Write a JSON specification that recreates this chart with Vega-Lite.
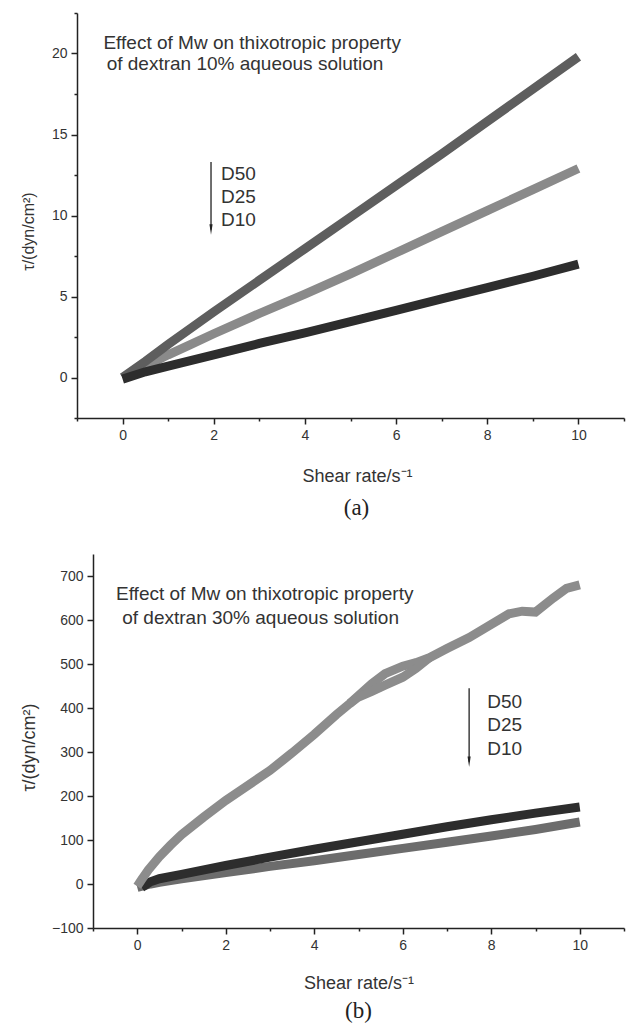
{
  "$schema": "https://vega.github.io/schema/vega-lite/v6.json",
  "padding": {"left": 20, "top": 6, "right": 0, "bottom": 0},
  "background": "white",
  "spacing": 34,
  "resolve": {"scale": {"color": "independent", "strokeWidth": "independent"}},
  "config": {
    "view": {"stroke": null},
    "font": "Liberation Sans",
    "axis": {
      "grid": false,
      "domainColor": "#222",
      "domainWidth": 1.5,
      "tickColor": "#222",
      "tickWidth": 1.5,
      "labelFont": "Liberation Sans",
      "labelFontSize": 14,
      "labelColor": "#333",
      "labelPadding": 4,
      "labelFlush": false,
      "labelOverlap": false,
      "titleFont": "Liberation Sans",
      "titleFontWeight": "normal",
      "titleColor": "#333",
      "titleFontSize": 18
    },
    "title": {"font": "Liberation Serif", "fontWeight": "normal", "fontSize": 23, "color": "#222"}
  },
  "datasets": {
    "a_lines": [
      {"series": "D25", "x": 0, "y": 0},
      {"series": "D25", "x": 0.5, "y": 0.7},
      {"series": "D25", "x": 1, "y": 1.4},
      {"series": "D25", "x": 1.5, "y": 2.05},
      {"series": "D25", "x": 2, "y": 2.7},
      {"series": "D25", "x": 3, "y": 3.95},
      {"series": "D25", "x": 4, "y": 5.15},
      {"series": "D25", "x": 5, "y": 6.4},
      {"series": "D25", "x": 6, "y": 7.7},
      {"series": "D25", "x": 7, "y": 9.0},
      {"series": "D25", "x": 8, "y": 10.3},
      {"series": "D25", "x": 9, "y": 11.6},
      {"series": "D25", "x": 10, "y": 12.9},
      {"series": "D50", "x": 0, "y": 0},
      {"series": "D50", "x": 0.5, "y": 1.0},
      {"series": "D50", "x": 1, "y": 2.05},
      {"series": "D50", "x": 1.5, "y": 3.05},
      {"series": "D50", "x": 2, "y": 4.05},
      {"series": "D50", "x": 3, "y": 6.0},
      {"series": "D50", "x": 4, "y": 7.95},
      {"series": "D50", "x": 5, "y": 9.9},
      {"series": "D50", "x": 6, "y": 11.85},
      {"series": "D50", "x": 7, "y": 13.8},
      {"series": "D50", "x": 8, "y": 15.8},
      {"series": "D50", "x": 9, "y": 17.8},
      {"series": "D50", "x": 10, "y": 19.8},
      {"series": "D10", "x": 0, "y": -0.1},
      {"series": "D10", "x": 0.5, "y": 0.35},
      {"series": "D10", "x": 1, "y": 0.7},
      {"series": "D10", "x": 2, "y": 1.4},
      {"series": "D10", "x": 3, "y": 2.1},
      {"series": "D10", "x": 4, "y": 2.75},
      {"series": "D10", "x": 5, "y": 3.45},
      {"series": "D10", "x": 6, "y": 4.15},
      {"series": "D10", "x": 7, "y": 4.85},
      {"series": "D10", "x": 8, "y": 5.55},
      {"series": "D10", "x": 9, "y": 6.25},
      {"series": "D10", "x": 10, "y": 7.0}
    ],
    "a_text": [
      {"x": -0.42, "y": 20.3, "label": "Effect of Mw on thixotropic property"},
      {"x": -0.35, "y": 19.0, "label": "of dextran 10% aqueous solution"},
      {"x": 2.16, "y": 12.2, "label": "D50"},
      {"x": 2.16, "y": 10.8, "label": "D25"},
      {"x": 2.16, "y": 9.36, "label": "D10"}
    ],
    "a_arrow": [{"x": 1.94, "y1": 13.3, "y2": 9.14}],
    "b_lines": [
      {"series": "D25", "branch": "u", "x": 0, "y": -8},
      {"series": "D25", "branch": "u", "x": 0.3, "y": 0},
      {"series": "D25", "branch": "u", "x": 0.5, "y": 4},
      {"series": "D25", "branch": "u", "x": 1, "y": 12},
      {"series": "D25", "branch": "u", "x": 2, "y": 26},
      {"series": "D25", "branch": "u", "x": 3, "y": 40},
      {"series": "D25", "branch": "u", "x": 4, "y": 53},
      {"series": "D25", "branch": "u", "x": 5, "y": 67},
      {"series": "D25", "branch": "u", "x": 6, "y": 81},
      {"series": "D25", "branch": "u", "x": 7, "y": 95},
      {"series": "D25", "branch": "u", "x": 8, "y": 109},
      {"series": "D25", "branch": "u", "x": 9, "y": 124},
      {"series": "D25", "branch": "u", "x": 10, "y": 141},
      {"series": "D10", "branch": "u", "x": 0.1, "y": -8},
      {"series": "D10", "branch": "u", "x": 0.3, "y": 5},
      {"series": "D10", "branch": "u", "x": 0.5, "y": 12},
      {"series": "D10", "branch": "u", "x": 1, "y": 22},
      {"series": "D10", "branch": "u", "x": 2, "y": 42},
      {"series": "D10", "branch": "u", "x": 3, "y": 61},
      {"series": "D10", "branch": "u", "x": 4, "y": 79},
      {"series": "D10", "branch": "u", "x": 5, "y": 96},
      {"series": "D10", "branch": "u", "x": 6, "y": 113},
      {"series": "D10", "branch": "u", "x": 7, "y": 130},
      {"series": "D10", "branch": "u", "x": 8, "y": 146},
      {"series": "D10", "branch": "u", "x": 9, "y": 161},
      {"series": "D10", "branch": "u", "x": 10, "y": 175},
      {"series": "D50", "branch": "u", "x": 0, "y": -5},
      {"series": "D50", "branch": "u", "x": 0.1, "y": 10},
      {"series": "D50", "branch": "u", "x": 0.25, "y": 32},
      {"series": "D50", "branch": "u", "x": 0.5, "y": 62},
      {"series": "D50", "branch": "u", "x": 0.75, "y": 88},
      {"series": "D50", "branch": "u", "x": 1, "y": 112},
      {"series": "D50", "branch": "u", "x": 1.5, "y": 152},
      {"series": "D50", "branch": "u", "x": 2, "y": 190},
      {"series": "D50", "branch": "u", "x": 2.5, "y": 224},
      {"series": "D50", "branch": "u", "x": 3, "y": 258},
      {"series": "D50", "branch": "u", "x": 3.5, "y": 298},
      {"series": "D50", "branch": "u", "x": 4, "y": 340},
      {"series": "D50", "branch": "u", "x": 4.5, "y": 385},
      {"series": "D50", "branch": "u", "x": 4.8, "y": 410},
      {"series": "D50", "branch": "u", "x": 5, "y": 428},
      {"series": "D50", "branch": "u", "x": 5.3, "y": 455},
      {"series": "D50", "branch": "u", "x": 5.6, "y": 478},
      {"series": "D50", "branch": "u", "x": 6, "y": 495},
      {"series": "D50", "branch": "u", "x": 6.3, "y": 503},
      {"series": "D50", "branch": "u", "x": 6.6, "y": 514},
      {"series": "D50", "branch": "u", "x": 7, "y": 535},
      {"series": "D50", "branch": "u", "x": 7.5, "y": 560},
      {"series": "D50", "branch": "u", "x": 8, "y": 590},
      {"series": "D50", "branch": "u", "x": 8.4, "y": 614},
      {"series": "D50", "branch": "u", "x": 8.7, "y": 620},
      {"series": "D50", "branch": "u", "x": 9, "y": 618},
      {"series": "D50", "branch": "u", "x": 9.4, "y": 650},
      {"series": "D50", "branch": "u", "x": 9.7, "y": 672},
      {"series": "D50", "branch": "u", "x": 10, "y": 680},
      {"series": "D50", "branch": "d", "x": 4.8, "y": 410},
      {"series": "D50", "branch": "d", "x": 5, "y": 425},
      {"series": "D50", "branch": "d", "x": 5.3, "y": 438},
      {"series": "D50", "branch": "d", "x": 5.6, "y": 452},
      {"series": "D50", "branch": "d", "x": 6, "y": 470},
      {"series": "D50", "branch": "d", "x": 6.3, "y": 490},
      {"series": "D50", "branch": "d", "x": 6.6, "y": 514}
    ],
    "b_text": [
      {"x": -0.48, "y": 645, "label": "Effect of Mw on thixotropic property"},
      {"x": -0.34, "y": 591, "label": "of dextran 30% aqueous solution"},
      {"x": 7.91, "y": 400, "label": "D50"},
      {"x": 7.91, "y": 348, "label": "D25"},
      {"x": 7.91, "y": 293, "label": "D10"}
    ],
    "b_arrow": [{"x": 7.5, "y1": 445, "y2": 278}]
  },
  "vconcat": [
    {
      "width": 531,
      "height": 405,
      "title": {"text": "(a)", "orient": "bottom", "anchor": "middle", "dx": -2, "offset": 12},
      "layer": [
        {
          "data": {"name": "a_lines"},
          "mark": {"type": "line", "strokeWidth": 9, "strokeCap": "butt"},
          "encoding": {
            "x": {"field": "x", "type": "quantitative",
              "scale": {"domain": [-1, 11], "nice": false, "zero": false, "range": [-16, 531]},
              "axis": {
                "title": "Shear rate/s⁻¹",
                "values": [-1, 0, 1, 2, 3, 4, 5, 6, 7, 8, 9, 10, 11],
                "labelExpr": "datum.value % 2 === 0 ? datum.label : ''",
                "tickSize": {"condition": {"test": "datum.value % 2 !== 0", "value": 3}, "value": 6},
                "titlePadding": 25,
                "titleX": 264
              }},
            "y": {"field": "y", "type": "quantitative",
              "scale": {"domain": [-2.5, 22.5], "nice": false, "zero": false},
              "axis": {
                "title": "τ/(dyn/cm²)",
                "titleFontSize": 16,
                "offset": 16,
                "values": [-2.5, 0, 2.5, 5, 7.5, 10, 12.5, 15, 17.5, 20, 22.5],
                "labelExpr": "datum.value % 5 === 0 ? datum.label : ''",
                "tickSize": {"condition": {"test": "datum.value % 5 !== 0", "value": 3}, "value": 6},
                "titleX": -41,
                "titleY": 218
              }},
            "color": {"field": "series", "type": "nominal",
              "scale": {"domain": ["D10", "D25", "D50"], "range": ["#2d2d2d", "#8a8a8a", "#5e5e5e"]},
              "legend": null}
          }
        },
        {
          "data": {"name": "a_text"},
          "mark": {"type": "text", "align": "left", "baseline": "alphabetic", "fontSize": 19, "color": "#333", "font": "Liberation Sans"},
          "encoding": {
            "x": {"field": "x", "type": "quantitative"},
            "y": {"field": "y", "type": "quantitative"},
            "text": {"field": "label"}
          }
        },
        {
          "data": {"name": "a_arrow"},
          "mark": {"type": "rule", "strokeWidth": 1.3, "color": "#222"},
          "encoding": {
            "x": {"field": "x", "type": "quantitative"},
            "y": {"field": "y1", "type": "quantitative"},
            "y2": {"field": "y2"}
          }
        },
        {
          "data": {"name": "a_arrow"},
          "mark": {"type": "point", "shape": "M -0.3 -1 L 0.3 -1 L 0 1 Z", "filled": true, "size": 110, "color": "#222", "opacity": 1},
          "encoding": {
            "x": {"field": "x", "type": "quantitative"},
            "y": {"field": "y2", "type": "quantitative"}
          }
        }
      ]
    },
    {
      "width": 531,
      "height": 374,
      "title": {"text": "(b)", "orient": "bottom", "anchor": "middle", "offset": 8},
      "layer": [
        {
          "data": {"name": "b_lines"},
          "mark": {"type": "line", "strokeCap": "butt"},
          "encoding": {
            "x": {"field": "x", "type": "quantitative",
              "scale": {"domain": [-1, 11], "nice": false, "zero": false},
              "axis": {
                "title": "Shear rate/s⁻¹",
                "values": [-1, 0, 1, 2, 3, 4, 5, 6, 7, 8, 9, 10, 11],
                "labelExpr": "datum.value % 2 === 0 ? datum.label : ''",
                "tickSize": {"condition": {"test": "datum.value % 2 !== 0", "value": 3}, "value": 6},
                "titlePadding": 22
              }},
            "y": {"field": "y", "type": "quantitative",
              "scale": {"domain": [-100, 750], "nice": false, "zero": false},
              "axis": {
                "title": "τ/(dyn/cm²)",
                "titleFontSize": 18,
                "values": [-100, -50, 0, 50, 100, 150, 200, 250, 300, 350, 400, 450, 500, 550, 600, 650, 700, 750],
                "labelExpr": "datum.value % 100 === 0 ? datum.label : ''",
                "tickSize": {"condition": {"test": "datum.value % 100 !== 0", "value": 3}, "value": 6},
                "titleX": -55,
                "titleY": 193
              }},
            "color": {"field": "series", "type": "nominal",
              "scale": {"domain": ["D10", "D25", "D50"], "range": ["#2d2d2d", "#6c6c6c", "#8c8c8c"]},
              "legend": null},
            "detail": {"field": "branch"},
            "strokeWidth": {"field": "series", "type": "nominal", "scale": {"domain": ["D10", "D25", "D50"], "range": [9, 9, 12]}, "legend": null}
          }
        },
        {
          "data": {"name": "b_text"},
          "mark": {"type": "text", "align": "left", "baseline": "alphabetic", "fontSize": 19, "color": "#333", "font": "Liberation Sans"},
          "encoding": {
            "x": {"field": "x", "type": "quantitative"},
            "y": {"field": "y", "type": "quantitative"},
            "text": {"field": "label"}
          }
        },
        {
          "data": {"name": "b_arrow"},
          "mark": {"type": "rule", "strokeWidth": 1.3, "color": "#222"},
          "encoding": {
            "x": {"field": "x", "type": "quantitative"},
            "y": {"field": "y1", "type": "quantitative"},
            "y2": {"field": "y2"}
          }
        },
        {
          "data": {"name": "b_arrow"},
          "mark": {"type": "point", "shape": "M -0.3 -1 L 0.3 -1 L 0 1 Z", "filled": true, "size": 110, "color": "#222", "opacity": 1},
          "encoding": {
            "x": {"field": "x", "type": "quantitative"},
            "y": {"field": "y2", "type": "quantitative"}
          }
        }
      ]
    }
  ]
}
